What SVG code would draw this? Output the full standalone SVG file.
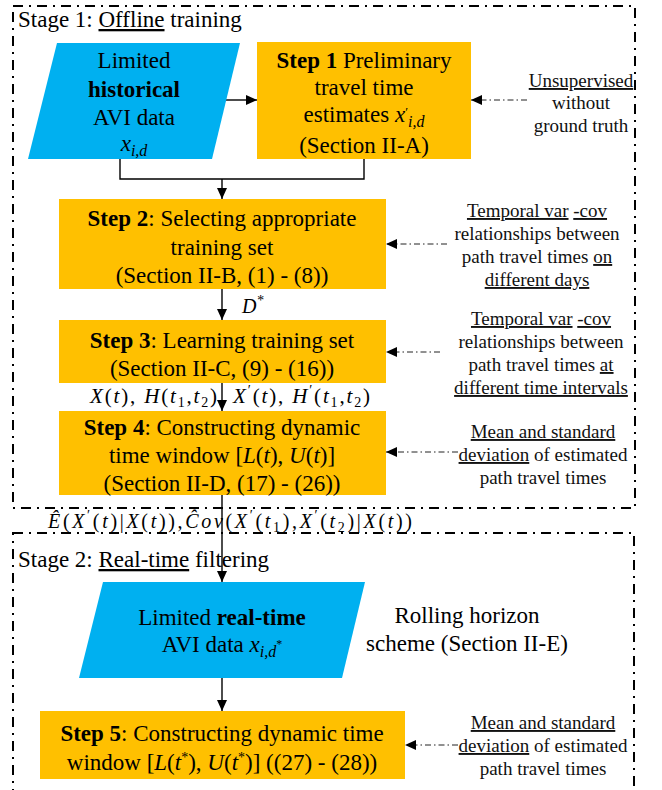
<svg xmlns="http://www.w3.org/2000/svg" width="662" height="790" viewBox="0 0 662 790">
<style>
  text { font-family: "Liberation Serif", "Times New Roman", serif; fill: #000; }
  .box { font-size: 23px; text-anchor: middle; }
  .ann { font-size: 19px; text-anchor: middle; fill: #111; }
  .stage { font-size: 23px; }
  .m { font-style: italic; }
  .u { text-decoration: underline; }
  .b { font-weight: bold; }
  .orange { fill: #FFC000; }
  .blue { fill: #00B0F0; }
  .frame { fill: none; stroke: #000; stroke-width: 2; stroke-dasharray: 10 6 2 6; }
  .flow { fill: none; stroke: #000; stroke-width: 1.4; }
  .dd { fill: none; stroke: #222; stroke-width: 1; stroke-dasharray: 6 3 1.5 3; }
</style>
<defs>
  <marker id="ah" markerWidth="11" markerHeight="10" refX="11" refY="5" orient="auto" markerUnits="userSpaceOnUse">
    <path d="M0,0 L11,5 L0,10 z" fill="#000"/>
  </marker>
</defs>

<g id="stage1-frame">
  <rect class="frame" x="13" y="6" width="622" height="502"/>
  <text class="stage" x="18" y="27">Stage 1: <tspan class="u">Offline</tspan>  training</text>
</g>
<g id="stage2-frame">
  <rect class="frame" x="13" y="533" width="621" height="280"/>
  <text class="stage" x="18" y="567">Stage 2: <tspan class="u">Real-time</tspan> filtering</text>
</g>

<g id="connectors">
  <line class="flow" x1="226" y1="100" x2="257" y2="100" marker-end="url(#ah)"/>
  <polyline class="flow" points="120,159 120,179 364,179 364,159" stroke="#333"/>
  <line class="flow" x1="222" y1="179" x2="222" y2="199" marker-end="url(#ah)"/>
  <line class="flow" x1="222" y1="289" x2="222" y2="320" marker-end="url(#ah)"/>
  <line class="flow" x1="222" y1="383" x2="222" y2="411" marker-end="url(#ah)"/>
  <line class="flow" x1="222" y1="495" x2="222" y2="582" marker-end="url(#ah)"/>
  <line class="flow" x1="222" y1="678" x2="222" y2="711" marker-end="url(#ah)"/>
  <line class="dd" x1="527" y1="100" x2="471" y2="100" marker-end="url(#ah)"/>
  <line class="dd" x1="447" y1="244" x2="386" y2="244" marker-end="url(#ah)"/>
  <line class="dd" x1="440" y1="352" x2="386" y2="352" marker-end="url(#ah)"/>
  <line class="dd" x1="458" y1="452" x2="386" y2="452" marker-end="url(#ah)"/>
  <line class="dd" x1="458" y1="745" x2="405" y2="745" marker-end="url(#ah)"/>
</g>

<g id="historical-data">
  <polygon class="blue" points="57,43 240,43 212,159 28,159"/>
  <text class="box" x="134" y="68">Limited</text>
  <text class="box b" x="134" y="97">historical</text>
  <text class="box" x="134" y="125">AVI data</text>
  <text class="box m" x="134" y="151">x<tspan font-size="16" dy="5">i,d</tspan></text>
</g>

<g id="step1">
  <rect class="orange" x="257" y="42" width="214" height="117"/>
  <text class="box" x="364" y="68"><tspan class="b">Step 1</tspan> Preliminary</text>
  <text class="box" x="364" y="95">travel time</text>
  <text class="box" x="364" y="122">estimates <tspan class="m">x</tspan><tspan font-size="13" dy="-6">′</tspan><tspan class="m" font-size="16" dy="11">i,d</tspan></text>
  <text class="box" x="364" y="153">(Section II-A)</text>
</g>

<g id="step2">
  <rect class="orange" x="59" y="199" width="327" height="90"/>
  <text class="box" x="222" y="226"><tspan class="b">Step 2</tspan>: Selecting appropriate</text>
  <text class="box" x="222" y="255">training set</text>
  <text class="box" x="222" y="283">(Section II-B, (1) - (8))</text>
</g>

<text id="dstar" x="242" y="313" font-size="20" class="m">D<tspan font-size="14" dy="-8">*</tspan></text>

<g id="step3">
  <rect class="orange" x="59" y="320" width="327" height="63"/>
  <text class="box" x="222" y="348"><tspan class="b">Step 3</tspan>: Learning training set</text>
  <text class="box" x="222" y="376">(Section II-C, (9) - (16))</text>
</g>

<text id="xh-label" x="90" y="403" font-size="21" textLength="280" lengthAdjust="spacing"><tspan class="m">X</tspan>(<tspan class="m">t</tspan>), <tspan class="m">H</tspan>(<tspan class="m">t</tspan><tspan font-size="14" dy="4">1</tspan><tspan dy="-4">,</tspan><tspan class="m">t</tspan><tspan font-size="14" dy="4">2</tspan><tspan dy="-4">), </tspan><tspan class="m">X</tspan><tspan font-size="14" dy="-8">′</tspan><tspan dy="8">(</tspan><tspan class="m">t</tspan>), <tspan class="m">H</tspan><tspan font-size="14" dy="-8">′</tspan><tspan dy="8">(</tspan><tspan class="m">t</tspan><tspan font-size="14" dy="4">1</tspan><tspan dy="-4">,</tspan><tspan class="m">t</tspan><tspan font-size="14" dy="4">2</tspan><tspan dy="-4">)</tspan></text>

<g id="step4">
  <rect class="orange" x="59" y="411" width="327" height="84"/>
  <text class="box" x="222" y="435"><tspan class="b">Step 4</tspan>: Constructing dynamic</text>
  <text class="box" x="222" y="463">time window [<tspan class="m">L</tspan>(<tspan class="m">t</tspan>), <tspan class="m">U</tspan>(<tspan class="m">t</tspan>)]</text>
  <text class="box" x="222" y="491">(Section II-D, (17) - (26))</text>
</g>

<text id="e-label" x="48" y="528" font-size="20" textLength="364" lengthAdjust="spacing"><tspan class="m">Ê</tspan>(<tspan class="m">X</tspan><tspan font-size="14" dy="-8">′</tspan><tspan dy="8">(</tspan><tspan class="m">t</tspan>)|<tspan class="m">X</tspan>(<tspan class="m">t</tspan>)),<tspan class="m">Ĉov</tspan>(<tspan class="m">X</tspan><tspan font-size="14" dy="-8">′</tspan><tspan dy="8">(</tspan><tspan class="m">t</tspan><tspan font-size="14" dy="4">1</tspan><tspan dy="-4">),</tspan><tspan class="m">X</tspan><tspan font-size="14" dy="-8">′</tspan><tspan dy="8">(</tspan><tspan class="m">t</tspan><tspan font-size="14" dy="4">2</tspan><tspan dy="-4">)|</tspan><tspan class="m">X</tspan>(<tspan class="m">t</tspan>))</text>

<g id="realtime-data">
  <polygon class="blue" points="103,582 365,582 342,678 79,678"/>
  <text class="box" x="222" y="625">Limited <tspan class="b">real-time</tspan></text>
  <text class="box" x="222" y="652">AVI data <tspan class="m">x</tspan><tspan class="m" font-size="16" dy="5">i,d</tspan><tspan font-size="12" dy="-9">*</tspan></text>
</g>

<g id="rolling-horizon">
  <text class="box" x="467" y="623">Rolling horizon</text>
  <text class="box" x="467" y="651">scheme (Section II-E)</text>
</g>

<g id="step5">
  <rect class="orange" x="40" y="711" width="365" height="68"/>
  <text class="box" x="222" y="741"><tspan class="b">Step 5</tspan>: Constructing dynamic  time</text>
  <text class="box" x="222" y="770">window [<tspan class="m">L</tspan>(<tspan class="m">t</tspan><tspan font-size="14" dy="-8">*</tspan><tspan dy="8">), </tspan><tspan class="m">U</tspan>(<tspan class="m">t</tspan><tspan font-size="14" dy="-8">*</tspan><tspan dy="8">)] ((27) - (28))</tspan></text>
</g>

<g id="ann-step1">
  <text class="ann" x="581" y="87"><tspan class="u">Unsupervised</tspan></text>
  <text class="ann" x="581" y="109">without</text>
  <text class="ann" x="581" y="132">ground truth</text>
</g>
<g id="ann-step2">
  <text class="ann" x="537" y="217"><tspan class="u">Temporal var</tspan> <tspan class="u">-cov</tspan></text>
  <text class="ann" x="537" y="240">relationships between</text>
  <text class="ann" x="537" y="263">path travel times  <tspan class="u">on </tspan></text>
  <text class="ann" x="537" y="286"><tspan class="u">different days</tspan></text>
</g>
<g id="ann-step3">
  <text class="ann" x="541" y="325"><tspan class="u">Temporal var</tspan> <tspan class="u">-cov</tspan></text>
  <text class="ann" x="541" y="348">relationships between</text>
  <text class="ann" x="541" y="371">path travel times  <tspan class="u">at </tspan></text>
  <text class="ann" x="541" y="394"><tspan class="u">different time intervals</tspan></text>
</g>
<g id="ann-step4">
  <text class="ann" x="543" y="438"><tspan class="u">Mean and standard </tspan></text>
  <text class="ann" x="543" y="461"><tspan class="u">deviation</tspan>  of estimated</text>
  <text class="ann" x="543" y="484">path travel times</text>
</g>
<g id="ann-step5">
  <text class="ann" x="543" y="729"><tspan class="u">Mean and standard </tspan></text>
  <text class="ann" x="543" y="752"><tspan class="u">deviation</tspan>  of estimated</text>
  <text class="ann" x="543" y="775">path travel times</text>
</g>
</svg>
